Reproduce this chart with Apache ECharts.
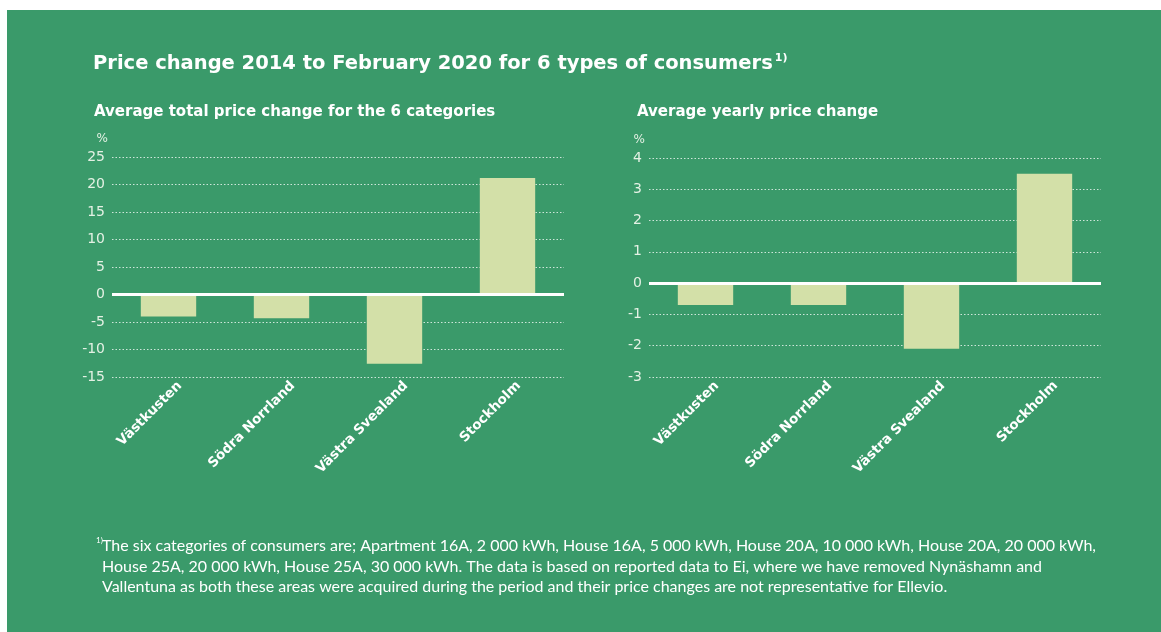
<!DOCTYPE html>
<html><head><meta charset="utf-8">
<script src="https://cdn.jsdelivr.net/npm/echarts@6/dist/echarts.min.js"></script>
<style>html,body{margin:0;padding:0;background:#fff}#c{width:1161px;height:632px}</style>
</head><body><div id="c"></div>
<script>
const categories = ['Västkusten', 'Södra Norrland', 'Västra Svealand', 'Stockholm'];
const totalChange = [-4.0, -4.3, -12.6, 21.2];
const yearlyChange = [-0.7, -0.7, -2.1, 3.5];
const leftTicks = {min: -15, max: 25, interval: 5};
const rightTicks = {min: -3, max: 4, interval: 1};
const titleText = 'Price change 2014 to February 2020 for 6 types of consumers';
const footnoteLines = [
  'The six categories of consumers are; Apartment 16A, 2 000 kWh, House 16A, 5 000 kWh, House 20A, 10 000 kWh, House 20A, 20 000 kWh,',
  'House 25A, 20 000 kWh, House 25A, 30 000 kWh. The data is based on reported data to Ei, where we have removed Nynäshamn and',
  'Vallentuna as both these areas were acquired during the period and their price changes are not representative for Ellevio.'
];

const GREEN = '#3a9a6a';
const BAR = '#d3e0a8';
const FONT = 'Lato, "Noto Sans", sans-serif';
const WIDE = '"DejaVu Sans", sans-serif';
const chart = echarts.init(document.getElementById('c'));

function xAxis(gi) {
  return {
    type: 'category', gridIndex: gi, data: categories,
    axisLine: {show: false, onZero: false}, axisTick: {show: false},
    axisLabel: {rotate: 45, color: '#fff', fontFamily: WIDE, fontSize: 13.5, fontWeight: 'bold', margin: 18, interval: 0,
      padding: [0, -16, 0, 0]}
  };
}
function yAxis(gi, t) {
  return {
    type: 'value', gridIndex: gi, min: t.min, max: t.max, interval: t.interval,
    name: '%', nameLocation: 'end', nameGap: 12,
    nameTextStyle: {color: '#e4f1e4', fontFamily: WIDE, fontSize: 12, align: 'right', padding: [0, 4, 0, 0]},
    axisLine: {show: false}, axisTick: {show: false},
    axisLabel: {color: '#e4f1e4', fontFamily: WIDE, fontSize: 14, margin: 7},
    splitLine: {lineStyle: {color: 'rgba(255,255,255,0.75)', type: [1.5, 2], width: 1}}
  };
}
function series(gi, data) {
  return {
    type: 'bar', xAxisIndex: gi, yAxisIndex: gi, data: data, barWidth: '49%',
    itemStyle: {color: BAR}, silent: true, z: 2,
    markLine: {silent: true, symbol: 'none', label: {show: false},
      lineStyle: {color: '#fff', type: 'solid', width: 3}, data: [{yAxis: 0}], z: 5}
  };
}

chart.setOption({
  backgroundColor: '#fff',
  animation: false,
  graphic: [
    {type: 'rect', shape: {x: 7, y: 10, width: 1154, height: 622}, style: {fill: GREEN}, z: -10},
    {type: 'text', left: 96, top: 536, style: {text: '1)', fill: '#fff', font: '8px ' + FONT}},
    {type: 'text', left: 102, top: 536, style: {text: footnoteLines.join('\n'), fill: '#fff', font: '16px ' + FONT, lineHeight: 20.5}}
  ],
  title: [
    {text: '{a|' + titleText + '}{s|1)}', left: 88, top: 48,
      textStyle: {rich: {
        a: {color: '#fff', fontFamily: WIDE, fontSize: 19.5, fontWeight: 'bold'},
        s: {color: '#fff', fontFamily: WIDE, fontSize: 11, fontWeight: 'bold', padding: [0, 0, 10, 2]}
      }}},
    {text: 'Average total price change for the 6 categories', left: 89, top: 100, textStyle: {color: '#fff', fontFamily: WIDE, fontSize: 15, fontWeight: 'bold'}},
    {text: 'Average yearly price change', left: 632, top: 100, textStyle: {color: '#fff', fontFamily: WIDE, fontSize: 15, fontWeight: 'bold'}}
  ],
  grid: [
    {left: 112, right: 597, top: 157, bottom: 255},
    {left: 649, right: 60, top: 158, bottom: 255}
  ],
  xAxis: [xAxis(0), xAxis(1)],
  yAxis: [yAxis(0, leftTicks), yAxis(1, rightTicks)],
  series: [series(0, totalChange), series(1, yearlyChange)]
});
</script></body></html>
